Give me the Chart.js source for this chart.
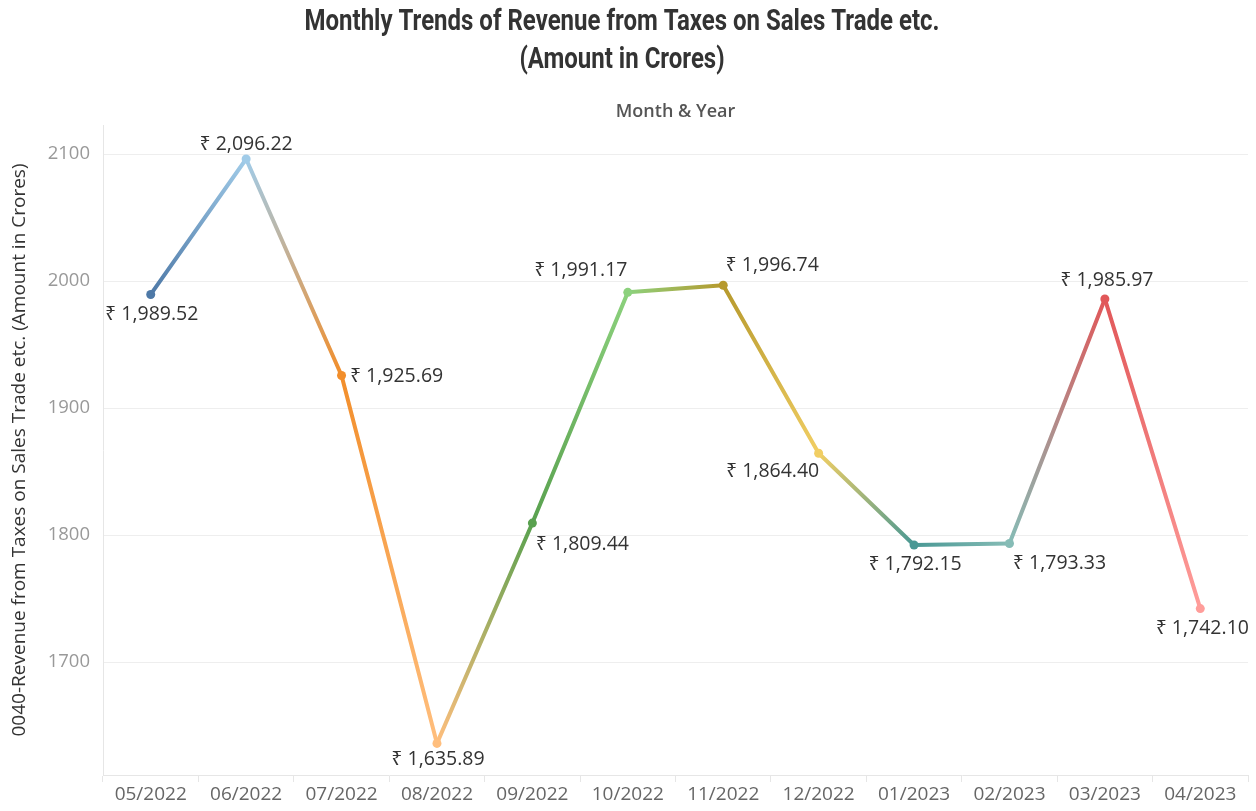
<!DOCTYPE html>
<html>
<head>
<meta charset="utf-8">
<script src="https://cdn.jsdelivr.net/npm/chart.js@4"></script>
<style>
  html, body { margin: 0; padding: 0; background: #fff; }
  #wrap { width: 1256px; height: 811px; }
</style>
</head>
<body>
<div id="wrap"><canvas id="c" width="1256" height="811"></canvas></div>
<script>
const months = ["05/2022","06/2022","07/2022","08/2022","09/2022","10/2022","11/2022","12/2022","01/2023","02/2023","03/2023","04/2023"];
const revenue = [1989.52, 2096.22, 1925.69, 1635.89, 1809.44, 1991.17, 1996.74, 1864.40, 1792.15, 1793.33, 1985.97, 1742.10];
const yTicks = [1700, 1800, 1900, 2000, 2100];
const titleLines = ["Monthly Trends of Revenue from Taxes on Sales Trade etc.", "(Amount in Crores)"];
const pointColors = ["#4e79a7","#a0cbe8","#f28e2b","#ffbe7d","#59a14f","#8cd17d","#b6992d","#f1ce63","#499894","#86bcb6","#e15759","#ff9d9a"];
// label offsets from each point (dx, dy), in px
const labelOffsets = [[1,20],[0,-15],[55,1],[1,16],[50,21],[-47,-22],[49,-20],[-46,18],[1,19],[50,20],[2,-19],[2,20]];

const fmt = v => "\u20B9 " + v.toLocaleString("en-US", {minimumFractionDigits: 2, maximumFractionDigits: 2});

const labelPlugin = {
  id: "pointLabels",
  afterDatasetsDraw(chart) {
    const ctx = chart.ctx;
    const meta = chart.getDatasetMeta(0);
    ctx.save();
    ctx.font = "19.5px 'Open Sans', 'Noto Sans', sans-serif";
    ctx.fillStyle = "#333333";
    ctx.textAlign = "center";
    ctx.textBaseline = "middle";
    meta.data.forEach((pt, i) => {
      const o = labelOffsets[i];
      ctx.fillText(fmt(revenue[i]), pt.x + o[0], pt.y + o[1]);
    });
    ctx.restore();
  }
};

// condensed bold title (drawn as canvas text, horizontally compressed)
const titlePlugin = {
  id: "condensedTitle",
  afterDraw(chart) {
    const ctx = chart.ctx;
    ctx.save();
    ctx.font = "bold 29px Roboto, 'Open Sans', sans-serif";
    ctx.fillStyle = "#333333";
    ctx.textAlign = "center";
    ctx.textBaseline = "middle";
    const w = ctx.measureText(titleLines[0]).width;
    const sx = 635 / w;
    const cx = 622;
    ctx.translate(cx, 0);
    ctx.scale(sx, 1);
    ctx.fillText(titleLines[0], 0, 23);
    ctx.fillText(titleLines[1], 0, 61);
    ctx.restore();
  }
};

new Chart(document.getElementById("c"), {
  type: "line",
  data: {
    labels: months,
    datasets: [{
      label: "Revenue",
      data: revenue,
      borderWidth: 4,
      borderCapStyle: "round",
      borderJoinStyle: "round",
      pointRadius: 4.5,
      pointHoverRadius: 4.5,
      pointBorderWidth: 0,
      pointBackgroundColor: pointColors,
      pointBorderColor: pointColors,
      tension: 0,
      segment: {
        borderColor: c => {
          const g = c.chart.ctx.createLinearGradient(c.p0.x, c.p0.y, c.p1.x, c.p1.y);
          g.addColorStop(0, pointColors[c.p0DataIndex]);
          g.addColorStop(1, pointColors[c.p1DataIndex]);
          return g;
        },
        borderDashOffset: c => c.p0DataIndex
      }
    }]
  },
  options: {
    responsive: false,
    animation: false,
    devicePixelRatio: 1,
    layout: { padding: { left: 0, right: 8, top: 78, bottom: 0 } },
    plugins: {
      legend: { display: false },
      tooltip: { enabled: false },
      title: { display: false }
    },
    scales: {
      x: {
        type: "category",
        position: "bottom",
        offset: true,
        grid: { display: true, drawOnChartArea: false, drawTicks: true, tickLength: 7, offset: true, color: "#e6e6e6" },
        border: { display: true, color: "#e6e6e6" },
        ticks: { color: "#666666", font: { family: "'Open Sans', 'Noto Sans', sans-serif", size: 19 }, padding: 1, maxRotation: 0, autoSkip: false },
        afterFit: s => { s.height = 36; }
      },
      xTop: {
        type: "category",
        position: "top",
        labels: months,
        offset: true,
        grid: { display: false },
        border: { display: false },
        ticks: { display: false },
        title: { display: true, text: "Month & Year", color: "#555555", font: { family: "'Open Sans', 'Noto Sans', sans-serif", size: 18, weight: "600" }, padding: { top: 23, bottom: 0 } },
        afterFit: s => { s.height = 47; }
      },
      y: {
        type: "linear",
        min: 1611,
        max: 2123,
        afterBuildTicks: s => { s.ticks = yTicks.map(v => ({ value: v })); },
        grid: { color: "#eeeeee", drawTicks: false },
        border: { display: true, color: "#e6e6e6" },
        ticks: { color: "#999999", font: { family: "'Open Sans', 'Noto Sans', sans-serif", size: 18.5 }, padding: 13, callback: v => String(v) },
        title: { display: true, text: "0040-Revenue from Taxes on Sales Trade etc. (Amount in Crores)", color: "#333333", font: { family: "'Open Sans', 'Noto Sans', sans-serif", size: 19 }, padding: { top: 8, bottom: 0 } },
        afterFit: s => { s.width = 103; }
      }
    }
  },
  plugins: [labelPlugin, titlePlugin]
});
</script>
</body>
</html>
